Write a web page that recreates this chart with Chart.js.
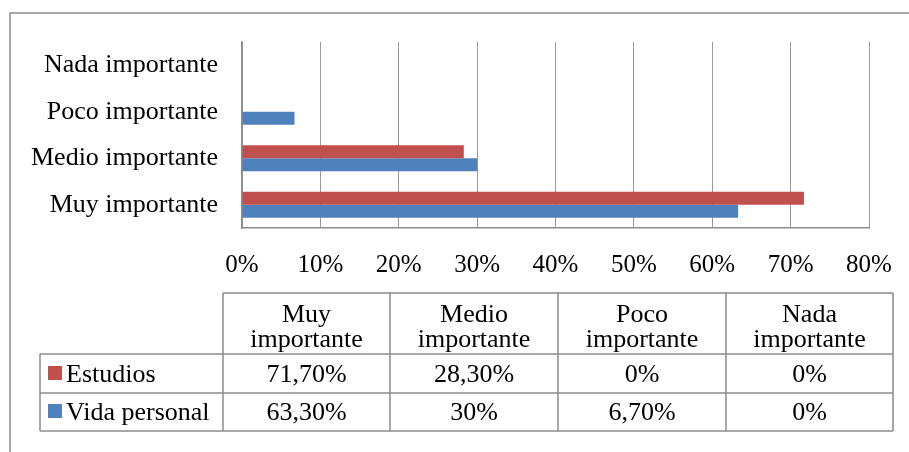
<!DOCTYPE html>
<html>
<head>
<meta charset="utf-8">
<script src="https://cdn.jsdelivr.net/npm/chart.js@4"></script>
<style>
  html, body { margin: 0; padding: 0; background: #fff; }
  canvas { display: block; }
</style>
</head>
<body>
<canvas id="myChart" width="909" height="452"></canvas>
<script>
// data
const categories = ["Muy importante", "Medio importante", "Poco importante", "Nada importante"];
const estudios = [71.7, 28.3, 0, 0];
const vidaPersonal = [63.3, 30, 6.7, 0];
const seriesNames = ["Estudios", "Vida personal"];
const seriesColors = ["#C0504D", "#4F81BD"];
const xMax = 80;
const xStep = 10;

const FONT = "'Liberation Serif', 'Times New Roman', serif";

function fmt(v) {
  if (Number.isInteger(v)) return v + "%";
  return v.toFixed(2).replace(".", ",") + "%";
}

// frame + data table under the chart
const tablePlugin = {
  id: "tablePlugin",
  afterDraw(chart) {
    const c = chart.ctx;
    c.save();
    // outer frame
    c.strokeStyle = "#8a8a8a";
    c.lineWidth = 1.5;
    c.beginPath();
    c.moveTo(10, 452);
    c.lineTo(10, 13);
    c.lineTo(909, 13);
    c.stroke();

    const cols = [223, 390, 558, 726, 893];
    const rows = [293, 354, 393, 431];
    const left = 40;
    c.strokeStyle = "#8c8c8c";
    c.lineWidth = 1.5;
    c.beginPath();
    c.moveTo(cols[0], rows[0]);
    c.lineTo(cols[4], rows[0]);
    for (let r = 1; r < rows.length; r++) {
      c.moveTo(left, rows[r]);
      c.lineTo(cols[4], rows[r]);
    }
    cols.forEach((x) => {
      c.moveTo(x, rows[0]);
      c.lineTo(x, rows[3]);
    });
    c.moveTo(left, rows[1]);
    c.lineTo(left, rows[3]);
    c.stroke();

    c.fillStyle = "#000";
    c.font = "26px " + FONT;
    c.textAlign = "center";
    c.textBaseline = "alphabetic";
    categories.forEach((cat, i) => {
      const cx = (cols[i] + cols[i + 1]) / 2;
      const parts = cat.split(" ");
      c.fillText(parts[0], cx, 322);
      c.fillText(parts[1], cx, 347);
    });
    const rowData = [estudios, vidaPersonal];
    const baselines = [382, 420];
    rowData.forEach((vals, r) => {
      vals.forEach((v, i) => {
        const cx = (cols[i] + cols[i + 1]) / 2;
        c.fillText(fmt(v), cx, baselines[r]);
      });
      c.fillStyle = seriesColors[r];
      c.fillRect(48, baselines[r] - 16, 14, 14);
      c.fillStyle = "#000";
      c.textAlign = "left";
      c.fillText(seriesNames[r], 66, baselines[r]);
      c.textAlign = "center";
    });
    c.restore();
  },
};

const ctx = document.getElementById("myChart").getContext("2d");
const myChart = new Chart(ctx, {
  type: "bar",
  data: {
    labels: categories,
    datasets: [
      {
        label: seriesNames[0],
        data: estudios,
        backgroundColor: seriesColors[0],
        borderWidth: 0,
      },
      {
        label: seriesNames[1],
        data: vidaPersonal,
        backgroundColor: seriesColors[1],
        borderWidth: 0,
      },
    ],
  },
  options: {
    indexAxis: "y",
    responsive: false,
    animation: false,
    categoryPercentage: 0.56,
    barPercentage: 1,
    layout: { padding: { left: 0, top: 42, right: 40, bottom: 150 } },
    plugins: {
      legend: { display: false },
      tooltip: { enabled: false },
    },
    scales: {
      x: {
        min: 0,
        max: xMax,
        afterFit: (scale) => {
          scale.paddingRight = 0;
          scale.paddingLeft = 0;
        },
        ticks: {
          stepSize: xStep,
          padding: 22,
          color: "#000",
          font: { family: FONT, size: 25 },
          callback: (v) => v + "%",
        },
        grid: { color: "#9a9a9a", drawTicks: false },
        border: { color: "#8c8c8c", width: 1.5 },
      },
      y: {
        reverse: true,
        afterFit: (scale) => {
          scale.width = 242;
        },
        ticks: {
          padding: 24,
          color: "#000",
          font: { family: FONT, size: 26 },
        },
        grid: { display: false, drawTicks: false },
        border: { color: "#8c8c8c", width: 1.5 },
      },
    },
  },
  plugins: [tablePlugin],
});
</script>
</body>
</html>
